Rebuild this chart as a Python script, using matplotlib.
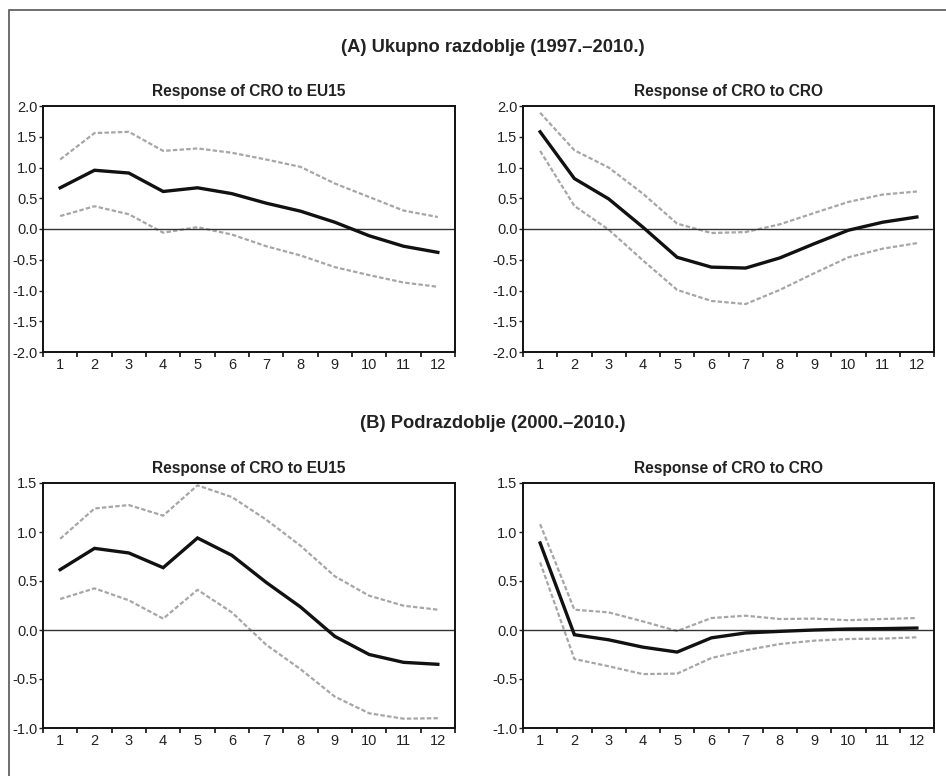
import numpy as np
import matplotlib
matplotlib.use("Agg")
import matplotlib.pyplot as plt
from matplotlib.patches import Rectangle
from matplotlib.ticker import FixedLocator, FormatStrFormatter

plt.rcParams['font.family'] = ['Liberation Sans', 'DejaVu Sans']
plt.rcParams['axes.unicode_minus'] = False

# --- Datos ---
periodos = np.arange(1, 13)

# (A) Ukupno razdoblje: respuesta de CRO a EU15
a_eu15 = [0.67, 0.955, 0.91, 0.61, 0.67, 0.575, 0.42, 0.29, 0.11, -0.11, -0.28, -0.38]
a_eu15_sup = [1.13, 1.56, 1.58, 1.27, 1.31, 1.24, 1.13, 1.01, 0.74, 0.52, 0.30, 0.195]
a_eu15_inf = [0.21, 0.37, 0.24, -0.06, 0.03, -0.09, -0.28, -0.43, -0.62, -0.75, -0.87, -0.94]

# (A) respuesta de CRO a CRO
a_cro = [1.58, 0.82, 0.49, 0.03, -0.46, -0.62, -0.635, -0.47, -0.24, -0.02, 0.11, 0.195]
a_cro_sup = [1.89, 1.28, 1.0, 0.575, 0.087, -0.065, -0.05, 0.076, 0.26, 0.44, 0.56, 0.61]
a_cro_inf = [1.27, 0.375, -0.01, -0.51, -0.99, -1.17, -1.22, -0.99, -0.72, -0.46, -0.32, -0.23]

# (B) Podrazdoblje: respuesta de CRO a EU15
b_eu15 = [0.616, 0.833, 0.786, 0.636, 0.939, 0.762, 0.486, 0.235, -0.065, -0.25, -0.33, -0.35]
b_eu15_sup = [0.93, 1.24, 1.275, 1.167, 1.476, 1.357, 1.126, 0.86, 0.548, 0.35, 0.248, 0.207]
b_eu15_inf = [0.316, 0.425, 0.303, 0.116, 0.41, 0.18, -0.15, -0.40, -0.68, -0.85, -0.905, -0.90]

# (B) respuesta de CRO a CRO
b_cro = [0.888, -0.048, -0.10, -0.175, -0.225, -0.08, -0.03, -0.014, 0.0, 0.01, 0.014, 0.02]
b_cro_sup = [1.08, 0.207, 0.18, 0.088, -0.01, 0.122, 0.146, 0.112, 0.116, 0.10, 0.112, 0.122]
b_cro_inf = [0.69, -0.296, -0.37, -0.45, -0.445, -0.286, -0.207, -0.143, -0.109, -0.092, -0.088, -0.075]

titulo_a = '(A) Ukupno razdoblje (1997.–2010.)'
titulo_b = '(B) Podrazdoblje (2000.–2010.)'
sub_eu15 = 'Response of CRO to EU15'
sub_cro = 'Response of CRO to CRO'

yticks_a = [-2.0, -1.5, -1.0, -0.5, 0.0, 0.5, 1.0, 1.5, 2.0]
yticks_b = [-1.0, -0.5, 0.0, 0.5, 1.0, 1.5]

# --- Figura ---
W, H = 946, 776
fig = plt.figure(figsize=(W / 100, H / 100), dpi=100)


def px_axes(x0, y0, x1, y1):
    return fig.add_axes([x0 / W, 1 - y1 / H, (x1 - x0) / W, (y1 - y0) / H])


def panel(ax, central, sup, inf, yticks, titulo):
    ax.plot(periodos, sup, color='#a6a6a6', lw=1.6, linestyle=(0, (2, 1)))
    ax.plot(periodos, inf, color='#a6a6a6', lw=1.6, linestyle=(0, (2, 1)))
    ax.axhline(0, color='#333333', lw=1.0)
    ax.plot(periodos, central, color='#111111', lw=2.4, solid_joinstyle='miter')
    ax.set_xlim(0.5, 12.5)
    ax.set_ylim(yticks[0], yticks[-1])
    ax.set_yticks(yticks)
    ax.yaxis.set_major_formatter(FormatStrFormatter('%.1f'))
    ax.set_xticks(periodos)
    ax.xaxis.set_minor_locator(FixedLocator(np.arange(0.5, 13, 1)))
    ax.tick_params(axis='x', which='major', length=0, pad=4, labelsize=10.5, colors='#222222')
    ax.tick_params(axis='x', which='minor', length=3.5, width=1.2, direction='out', color='#111111')
    ax.tick_params(axis='y', length=3, width=1.0, pad=1, labelsize=10.5, colors='#222222')
    for s in ax.spines.values():
        s.set_linewidth(1.4)
        s.set_color('#111111')
    ax.set_title(titulo, fontsize=11.2, fontweight='bold', pad=7, color='#222222')


ax1 = px_axes(43, 106, 455, 352)
ax2 = px_axes(523, 106, 934, 352)
ax3 = px_axes(43, 483, 455, 728)
ax4 = px_axes(523, 483, 934, 728)

panel(ax1, a_eu15, a_eu15_sup, a_eu15_inf, yticks_a, sub_eu15)
panel(ax2, a_cro, a_cro_sup, a_cro_inf, yticks_a, sub_cro)
panel(ax3, b_eu15, b_eu15_sup, b_eu15_inf, yticks_b, sub_eu15)
panel(ax4, b_cro, b_cro_sup, b_cro_inf, yticks_b, sub_cro)

# Títulos de bloque
fig.text(493 / W, 1 - 48 / H, titulo_a, ha='center', va='center',
         fontsize=13.2, fontweight='bold', color='#222222')
fig.text(493 / W, 1 - 424 / H, titulo_b, ha='center', va='center',
         fontsize=13.2, fontweight='bold', color='#222222')

# Marco exterior (recortado a la derecha y abajo)
fig.patches.append(Rectangle((8.5 / W, -0.05), 1.2, 1 - 10.5 / H + 0.05,
                             transform=fig.transFigure, fill=False,
                             edgecolor='#555555', lw=1.2))

fig.savefig('out.png', dpi=100)
